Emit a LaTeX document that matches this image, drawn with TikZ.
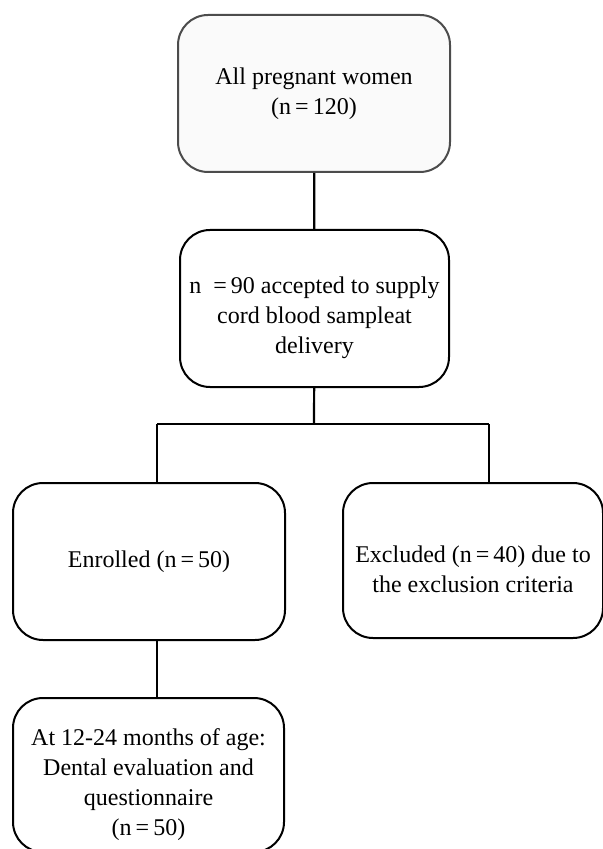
\documentclass[tikz,border=0pt]{standalone}
\usepackage{fontspec}
\setmainfont{Liberation Serif}
\newcommand{\lowtext}[3]{\raisebox{#1}[0pt][0pt]{\parbox{#2}{\centering #3}}}
\begin{document}
\begin{tikzpicture}[x=0.5pt,y=-0.5pt,font=\fontsize{12}{15}\selectfont,
    box/.style={draw,rounded corners=15pt,line width=1pt,align=center,inner sep=0pt},
    link/.style={line width=1.1pt}]
            \useasboundingbox (0,0) rectangle (603,849);
            % boxes
            \node[box,fill=gray!4,draw=black!70,minimum width=136pt,minimum height=78.5pt] (all) at (314,93.5) {All pregnant women\\(n\,=\,120)};
            \node[box,minimum width=134.5pt,minimum height=78.5pt] (accept) at (314.5,308.5) {\lowtext{-7.75pt}{128pt}{n\ \ =\,90 accepted to supply\\cord blood sampleat\\delivery}};
            \node[box,minimum width=136pt,minimum height=78.5pt] (enrol) at (149,561.5) {Enrolled (n\,=\,50)};
            \node[box,minimum width=130pt,minimum height=77.5pt] (excl) at (473,560.5) {\lowtext{-7.25pt}{125pt}{Excluded (n\,=\,40) due to\\the exclusion criteria}};
            \node[box,minimum width=135.5pt,minimum height=77pt] (dental) at (148.5,775) {\lowtext{-8pt}{130pt}{At 12-24 months of age:\\Dental evaluation and\\questionnaire\\(n\,=\,50)}};
            % connectors
            \coordinate (split) at (314,424);
            \coordinate (ljoin) at (157,424);
            \coordinate (rjoin) at (489,424);
            \coordinate (ldown) at (157,640);
            \draw[link] (all) -- (accept);
            \draw[link] (accept) -- (split);
            \draw[link] (ljoin) -- (rjoin);
            \draw[link] (ljoin) -- (ljoin |- enrol.north);
            \draw[link] (rjoin) -- (rjoin |- excl.north);
            \draw[link] (ldown |- enrol.south) -- (ldown |- dental.north);
        \end{tikzpicture}
\end{document}
